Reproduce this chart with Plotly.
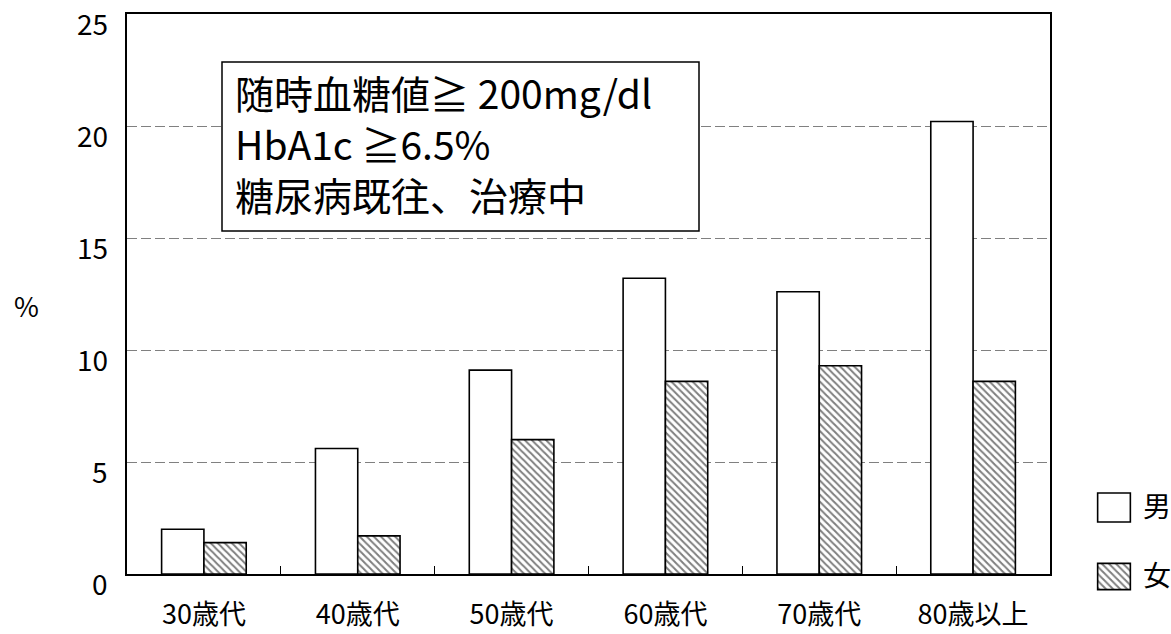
import plotly.graph_objects as go

# Prevalence (%) by age group
age_groups = ["30歳代", "40歳代", "50歳代", "60歳代", "70歳代", "80歳以上"]
male_pct = [2.0, 5.6, 9.1, 13.2, 12.6, 20.2]
female_pct = [1.4, 1.7, 6.0, 8.6, 9.3, 8.6]
y_ticks = [0, 5, 10, 15, 20, 25]
legend_labels = ["男", "女"]
criteria_lines = ["随時血糖値≧ 200mg/dl", "HbA1c ≧6.5%", "糖尿病既往、治療中"]

FONT = "Noto Sans CJK JP, Noto Sans, sans-serif"
W, H = 1171, 634
ML, MR, MT, MB = 127, 11, 14, 14
PW, PH = W - ML - MR, H - MT - MB


def fx(px):
    return (px - ML) / PW


def fy(py):
    return (H - MB - py) / PH


HATCH = dict(shape="\\", fgcolor="black", bgcolor="white", size=5, solidity=0.4)

fig = go.Figure()

fig.add_trace(go.Bar(
    x=age_groups, y=male_pct, name=legend_labels[0],
    marker=dict(color="white", line=dict(color="black", width=1.6)),
    showlegend=False,
))
fig.add_trace(go.Bar(
    x=age_groups, y=female_pct, name=legend_labels[1],
    marker=dict(color="white", line=dict(color="black", width=1.6), pattern=HATCH),
    showlegend=False,
))

# Legend swatches on a small auxiliary axis pair
fig.add_trace(go.Bar(
    x=[1], y=[legend_labels[0]], orientation="h", width=0.42,
    xaxis="x2", yaxis="y2", showlegend=False,
    marker=dict(color="white", line=dict(color="black", width=1.6)),
))
fig.add_trace(go.Bar(
    x=[1], y=[legend_labels[1]], orientation="h", width=0.38,
    xaxis="x2", yaxis="y2", showlegend=False,
    marker=dict(color="white", line=dict(color="black", width=1.6), pattern=HATCH),
))

annotations = []
for v in y_ticks:
    annotations.append(dict(
        x=fx(110), y=v, xref="paper", yref="y", text=str(v),
        showarrow=False, xanchor="right", yanchor="middle", yshift=-9,
        font=dict(family=FONT, size=28, color="black"),
    ))
annotations.append(dict(
    x=fx(26), y=fy(306), xref="paper", yref="paper", text="%",
    showarrow=False, xanchor="center", yanchor="middle",
    font=dict(family=FONT, size=27, color="black"),
))
# Diagnostic criteria, one line per annotation inside the framed box
for line, py in zip(criteria_lines, [92, 143, 194]):
    annotations.append(dict(
        x=fx(233), y=fy(py), xref="paper", yref="paper",
        text=line, align="left", showarrow=False,
        xanchor="left", yanchor="middle",
        font=dict(family=FONT, size=39, color="black"),
    ))

fig.update_layout(
    width=W, height=H,
    margin=dict(l=ML, r=MR, t=MT, b=MB, pad=0, autoexpand=False),
    paper_bgcolor="white", plot_bgcolor="white",
    barmode="group", bargap=0.45, bargroupgap=0,
    font=dict(family=FONT, color="black"),
    xaxis=dict(
        domain=[0, fx(1050)], type="category", categoryarray=age_groups,
        showline=True, mirror=True, linecolor="black", linewidth=1.5,
        ticks="inside", tickson="boundaries", ticklen=8, tickcolor="black",
        tickwidth=1, tickfont=dict(family=FONT, size=27, color="black"),
        ticklabelstandoff=16, showgrid=False, automargin=False,
    ),
    yaxis=dict(
        domain=[fy(574), 1], range=[0, 25], tickvals=y_ticks,
        showticklabels=False, ticks="",
        showline=True, mirror=True, linecolor="black", linewidth=1.5,
        showgrid=True, gridcolor="#808080", gridwidth=1,
        griddash="10px,4px", zeroline=False, automargin=False,
    ),
    xaxis2=dict(
        domain=[fx(1096), fx(1132)], range=[-0.05, 1.05], anchor="y2",
        visible=False, fixedrange=True,
    ),
    yaxis2=dict(
        domain=[fy(611), fy(473)], type="category",
        categoryarray=legend_labels, autorange="reversed", anchor="x2",
        side="right", showline=False, showgrid=False, ticks="",
        zeroline=False, ticklabelstandoff=10,
        tickfont=dict(family=FONT, size=28, color="black"),
        automargin=False,
    ),
    shapes=[dict(
        type="rect", xref="paper", yref="paper",
        x0=fx(222), x1=fx(699), y0=fy(231), y1=fy(62),
        line=dict(color="black", width=1.5), fillcolor="white", layer="above",
    )],
    annotations=annotations,
)

fig.write_html("out.html")
